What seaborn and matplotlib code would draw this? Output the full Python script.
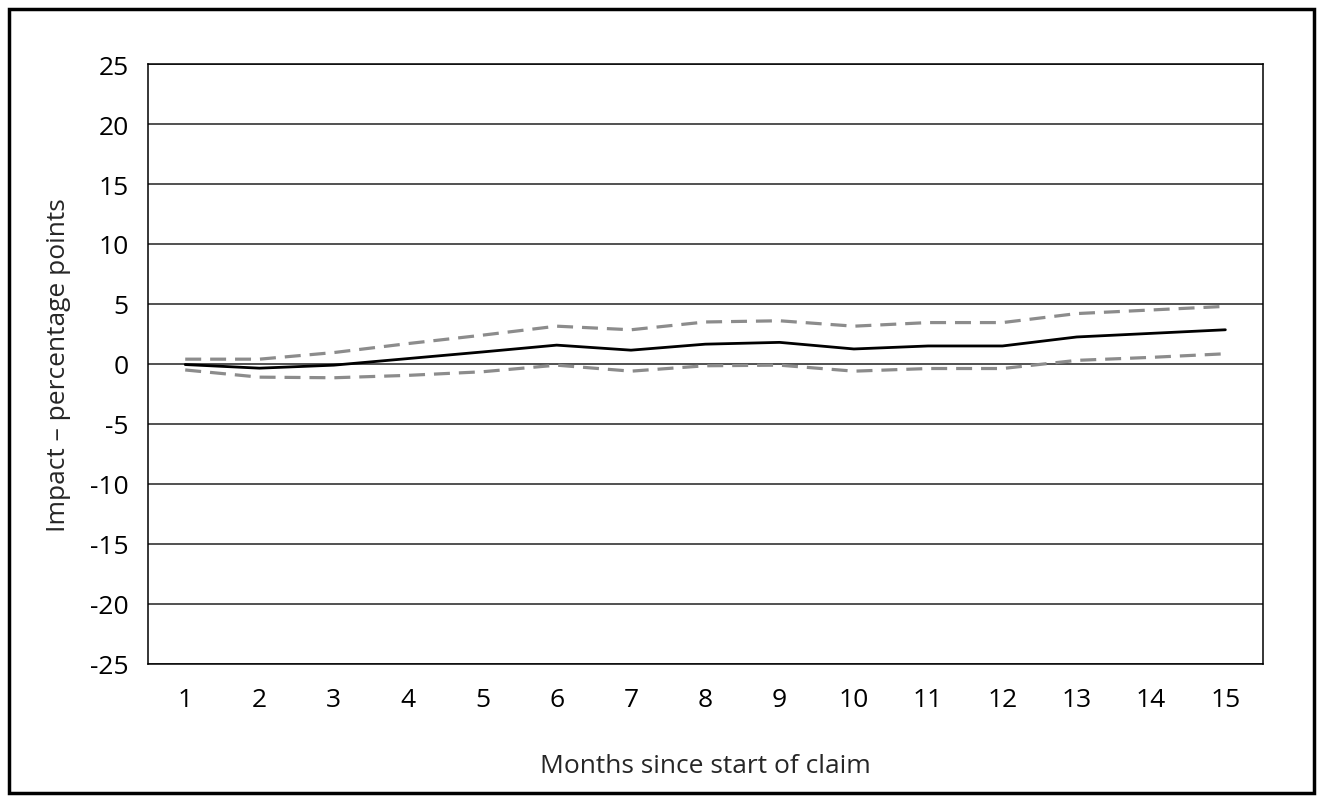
import numpy as np
import pandas as pd
import seaborn as sns
import matplotlib.pyplot as plt
from matplotlib.patches import Rectangle

# values
months = list(range(1, 16))
impact = [-0.05, -0.35, -0.1, 0.45, 1.0, 1.57, 1.15, 1.65, 1.8, 1.25, 1.5, 1.5, 2.25, 2.55, 2.85]
upper = [0.4, 0.4, 0.95, 1.7, 2.4, 3.15, 2.85, 3.5, 3.6, 3.15, 3.45, 3.45, 4.2, 4.5, 4.8]
lower = [-0.5, -1.1, -1.15, -0.95, -0.65, -0.1, -0.6, -0.15, -0.1, -0.6, -0.38, -0.38, 0.3, 0.55, 0.85]
x_labels = [str(m) for m in months]
y_ticks = list(range(-25, 30, 5))

sns.set_style("white")
plt.rcParams['font.family'] = ['Open Sans', 'DejaVu Sans']
plt.rcParams['axes.unicode_minus'] = False

df = pd.DataFrame({'month': months, 'impact': impact, 'upper': upper, 'lower': lower})

fig = plt.figure(figsize=(13.22, 8.03), dpi=100)
ax = fig.add_axes([0.112, 0.172, 0.843, 0.747])

for y in y_ticks:
    ax.axhline(y, color='#222222', lw=1.1, zorder=0)

sns.lineplot(data=df, x='month', y='upper', ax=ax, color='#8c8c8c', lw=2.3,
             linestyle=(0, (5, 2.8)))
sns.lineplot(data=df, x='month', y='lower', ax=ax, color='#8c8c8c', lw=2.3,
             linestyle=(0, (5, 2.8)))
sns.lineplot(data=df, x='month', y='impact', ax=ax, color='black', lw=2)

ax.set_xlim(0.5, 15.5)
ax.set_ylim(-25, 25)
ax.set_xticks(months)
ax.set_xticklabels(x_labels)
ax.set_yticks(y_ticks)
ax.set_yticklabels([str(v) for v in y_ticks])
ax.tick_params(axis='both', length=0, labelsize=19, colors='black')
ax.tick_params(axis='x', pad=17)
ax.tick_params(axis='y', pad=14)
for s in ax.spines.values():
    s.set_color('black')
    s.set_linewidth(1.1)

ax.set_xlabel('Months since start of claim', fontsize=19, labelpad=29)
ax.set_ylabel('Impact \u2013 percentage points', fontsize=19, labelpad=14)

fig.patches.append(Rectangle((0.007, 0.011), 0.987, 0.977, transform=fig.transFigure,
                             fill=False, edgecolor='black', lw=2.5))

fig.savefig('out.png', dpi=100)
